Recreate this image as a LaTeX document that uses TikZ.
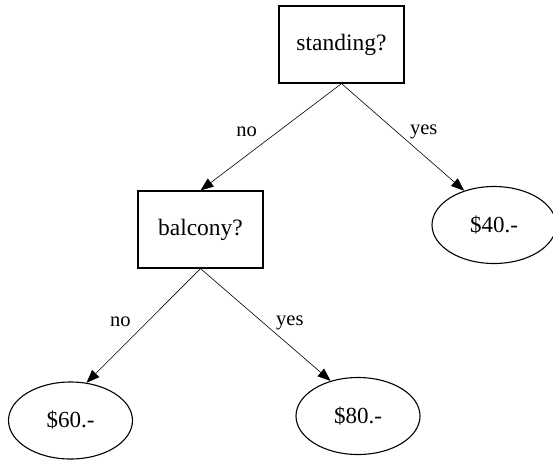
\documentclass[tikz,border=0pt]{standalone}
\usepackage{fontspec}
\setmainfont{Liberation Serif}
\usetikzlibrary{arrows.meta,shapes.geometric}

\tikzset{
	question/.style={shape=rectangle, draw, line width=1.2pt, minimum width=125pt, minimum height=77pt, font=\fontsize{23.5}{27}\selectfont},
	price/.style={shape=ellipse, draw, line width=1.1pt, minimum width=124pt, minimum height=77pt, font=\fontsize{23}{27}\selectfont},
	answer/.style={inner sep=0pt, font=\fontsize{20.5}{24}\selectfont},
	branch/.style={line width=0.6pt, -{Triangle[length=13pt,width=10pt]}}
}

\begin{document}
\begin{tikzpicture}[x=1pt, y=-1pt]
	\useasboundingbox (0,0) rectangle (553,461);

	\node[question] (standing) at (341.5,44.5) {standing?};
	\node[question] (balcony) at (200.5,229.5) {balcony?};
	\node[price] (forty) at (494,225) {\$40.-};
	\node[price] (sixty) at (70.5,420.5) {\$60.-};
	\node[price] (eighty) at (358,416) {\$80.-};

	\path [branch] (standing.south) edge node[answer, pos=0.45, left=21pt] {no} (balcony.north);
	\path [branch] (standing.south) edge node[answer, pos=0.45, right=13pt] {yes} (forty.131);
	\path [branch] (balcony.south) edge node[answer, pos=0.47, left=16pt] {no} (sixty.67);
	\path [branch] (balcony.south) edge node[answer, pos=0.48, right=13pt] {yes} (eighty.128);
\end{tikzpicture}
\end{document}
